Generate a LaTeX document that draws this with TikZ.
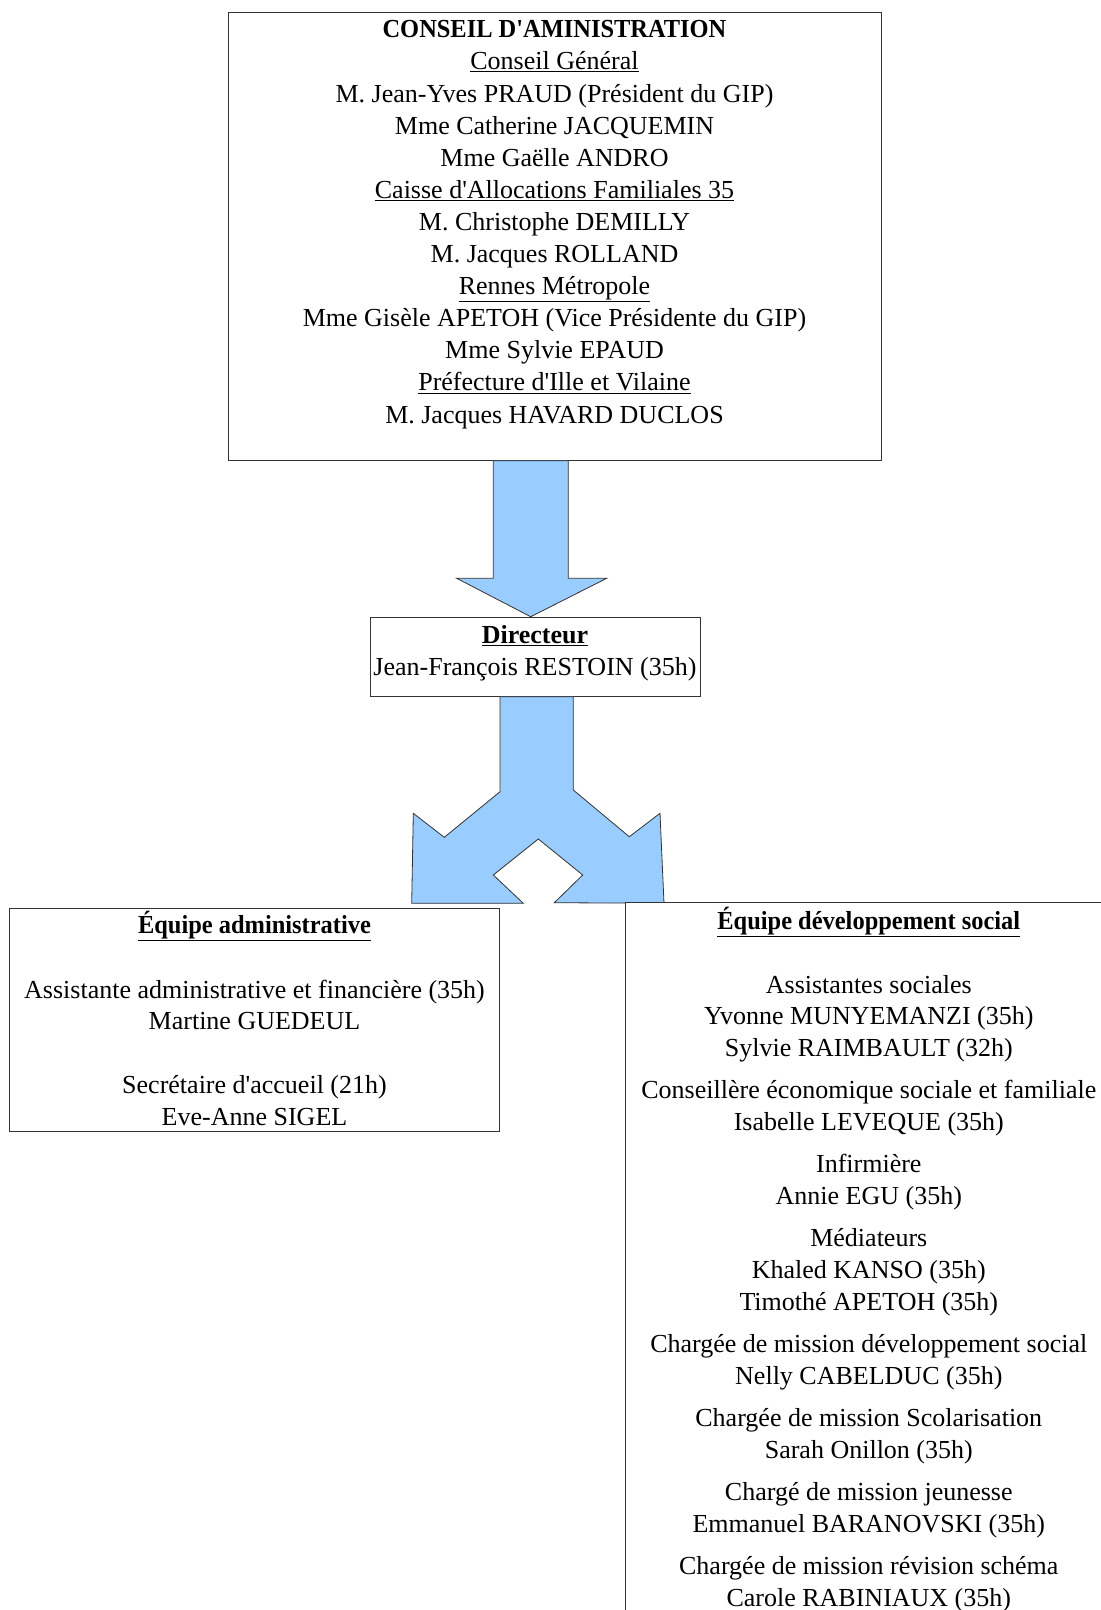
\documentclass[tikz,border=0pt]{standalone}
\usepackage{fontspec}
\setmainfont{Liberation Serif}
\definecolor{arrowblue}{HTML}{99CCFF}
\definecolor{boxline}{HTML}{333333}
\newcommand{\ap}{\textquotesingle}
\newcommand{\bt}[1]{\scalebox{0.94}[1]{\textbf{#1}}}
\tikzset{
  txt/.style={inner sep=0pt, anchor=base, font=\fontsize{26}{30}\selectfont},
  boxframe/.style={draw=boxline, line width=1pt, fill=white},
  bigarrow/.style={draw=boxline, line width=0.8pt, fill=arrowblue, line join=miter},
}
\begin{document}
\begin{tikzpicture}[x=1pt,y=-1pt]
\useasboundingbox (0,0) rectangle (1101,1610);
\fill[white] (0,0) rectangle (1101,1610);
% top box
\draw[boxframe] (228,12.3) rectangle (881,460);
\node[txt] (t1) at (554.5,37.8) {\bt{CONSEIL D\ap AMINISTRATION}};
\node[txt] (t2) at (554.5,69.9) {\underline{Conseil Général}};
\node[txt] (t3) at (554.5,102.0) {M. Jean-Yves PRAUD (Président du GIP)};
\node[txt] (t4) at (554.5,134.1) {Mme Catherine JACQUEMIN};
\node[txt] (t5) at (554.5,166.2) {Mme Gaëlle ANDRO};
\node[txt] (t6) at (554.5,198.3) {\underline{Caisse d\ap Allocations Familiales 35}};
\node[txt] (t7) at (554.5,230.4) {M. Christophe DEMILLY};
\node[txt] (t8) at (554.5,262.5) {M. Jacques ROLLAND};
\node[txt] (t9) at (554.5,294.6) {\underline{Rennes Métropole}};
\node[txt] (t10) at (554.5,326.7) {Mme Gisèle APETOH (Vice Présidente du GIP)};
\node[txt] (t11) at (554.5,358.8) {Mme Sylvie EPAUD};
\node[txt] (t12) at (554.5,390.9) {\underline{Préfecture d\ap Ille et Vilaine}};
\node[txt] (t13) at (554.5,423.0) {M. Jacques HAVARD DUCLOS};
% top arrow
\draw[bigarrow] (493.3,460.7) -- (568.3,460.7) -- (568.3,578.3) -- (606.7,578.3)
  -- (530.7,616.7) -- (456.7,578.3) -- (493.3,578.3) -- cycle;
% director box
\draw[boxframe] (370,617.7) rectangle (700,696.7);
\node[txt] (d1) at (535,643.7) {\textbf{\underline{Directeur}}};
\node[txt] (d2) at (535,675.6) {Jean-François RESTOIN (35h)};
% split arrow
\draw[bigarrow] (500,696.7) -- (500,791.7) -- (444.3,837.3) -- (413.3,813.3)
  -- (411.7,903.3) -- (523.3,903.3) -- (493.3,875) -- (538.3,839) -- (582.7,875)
  -- (554.3,902.7) -- (664,903.3) -- (660,813.3) -- (629.3,836.7) -- (573.3,790)
  -- (573.3,696.7) -- cycle;
% left box
\draw[boxframe] (9.5,908) rectangle (499,1131.7);
\node[txt] (l1) at (254.5,933.3) {\bt{\underline{Équipe administrative}}};
\node[txt] (l2) at (254.5,998) {Assistante administrative et financière (35h)};
\node[txt] (l3) at (254.5,1029.9) {Martine GUEDEUL};
\node[txt] (l4) at (254.5,1093.5) {Secrétaire d\ap accueil (21h)};
\node[txt] (l5) at (254.5,1125.4) {Eve-Anne SIGEL};
% right box (clipped by page)
\begin{scope}
\clip (0,0) rectangle (1101,1610);
\draw[boxframe] (625.7,902.7) rectangle (1130,1640);
\end{scope}
\node[txt] (r1) at (868.8,929.2) {\bt{\underline{Équipe développement social}}};
\node[txt] (r2) at (868.8,993) {Assistantes sociales};
\node[txt] (r3) at (868.8,1024.7) {Yvonne MUNYEMANZI (35h)};
\node[txt] (r4) at (868.8,1056.6) {Sylvie RAIMBAULT (32h)};
\node[txt] (r5) at (868.8,1098.7) {Conseillère économique sociale et familiale};
\node[txt] (r6) at (868.8,1130.5) {Isabelle LEVEQUE (35h)};
\node[txt] (r7) at (868.8,1172.6) {Infirmière};
\node[txt] (r8) at (868.8,1204.5) {Annie EGU (35h)};
\node[txt] (r9) at (868.8,1246.6) {Médiateurs};
\node[txt] (r10) at (868.8,1278.4) {Khaled KANSO (35h)};
\node[txt] (r11) at (868.8,1310.2) {Timothé APETOH (35h)};
\node[txt] (r12) at (868.8,1352.3) {Chargée de mission développement social};
\node[txt] (r13) at (868.8,1384.2) {Nelly CABELDUC (35h)};
\node[txt] (r14) at (868.8,1426.3) {Chargée de mission Scolarisation};
\node[txt] (r15) at (868.8,1458.1) {Sarah Onillon (35h)};
\node[txt] (r16) at (868.8,1500.2) {Chargé de mission jeunesse};
\node[txt] (r17) at (868.8,1532.1) {Emmanuel BARANOVSKI (35h)};
\node[txt] (r18) at (868.8,1574.2) {Chargée de mission révision schéma};
\node[txt] (r19) at (868.8,1606) {Carole RABINIAUX (35h)};
\end{tikzpicture}
\end{document}
